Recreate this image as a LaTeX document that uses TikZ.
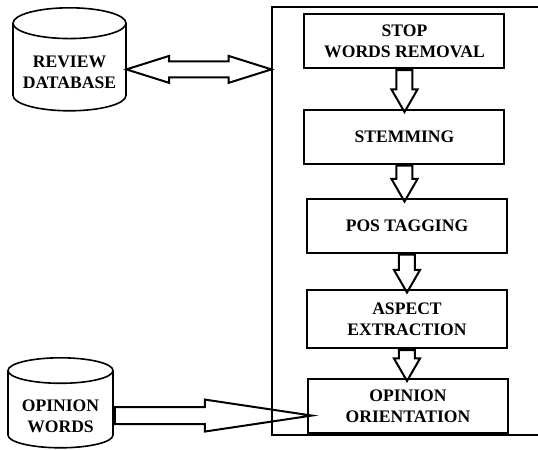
\documentclass[tikz,border=0pt]{standalone}
\usepackage{fontspec}
\setmainfont{Liberation Serif}
\usetikzlibrary{shapes.geometric,shapes.arrows,calc}

\begin{document}
\begin{tikzpicture}[
  x=0.5pt,
  y=-0.5pt,
  font=\fontsize{8.8}{10.5}\selectfont\bfseries,
  line join=miter,
  stage/.style={
    rectangle,
    draw=black,
    line width=1pt,
    minimum width=100pt,
    minimum height=27pt,
    align=center,
    inner sep=1pt
  },
  store/.style={
    cylinder,
    shape border rotate=90,
    aspect=0.33,
    draw=black,
    line width=0.8pt,
    align=center,
    inner sep=0pt,
    anchor=north
  },
  flow/.style={
    single arrow,
    draw=black,
    line width=1pt,
    inner xsep=0pt,
    inner ysep=3.5pt,
    single arrow head extend=2.5pt,
    single arrow tip angle=60,
    rotate=-90,
    anchor=tail
  }
]

\useasboundingbox (0,0) rectangle (538,450);

% ------------------------------------------------------------
% Data stores
% ------------------------------------------------------------

\node[store,minimum width=56.5pt,minimum height=51.5pt]
  (review) at (69.5,7) {\mbox{}\\REVIEW\\DATABASE};

\node[store,minimum width=52.5pt,minimum height=45pt]
  (opinion) at (60.5,357) {\mbox{}\\[2pt]OPINION\\WORDS};

% ------------------------------------------------------------
% Processing stages inside the frame
% ------------------------------------------------------------

\node[draw=black,line width=1pt,minimum width=136.5pt,minimum height=214pt]
  (pipeline) at (408.5,221) {};

\node[stage] (stopwords) at (404.5,41)  {STOP\\WORDS REMOVAL};
\node[stage] (stemming)  at (404.5,136.5) {STEMMING};
\node[stage] (postag)    at (407,225.5) {POS TAGGING};
\node[stage,minimum height=29pt] (aspect) at (407,319) {ASPECT\\EXTRACTION};
\node[stage] (orient)    at (408,406) {OPINION\\ORIENTATION};

\node[flow,minimum height=21pt]   (f1) at (stopwords.south) {};
\node[flow,minimum height=18pt]   (f2) at (stemming.south)  {};
\node[flow,minimum height=19pt]   (f3) at (postag.south)    {};
\node[flow,minimum height=15.5pt] (f4) at (aspect.south)    {};

% ------------------------------------------------------------
% Links to the stores
% ------------------------------------------------------------

\node[
  double arrow,
  draw=black,
  line width=1pt,
  minimum height=72.5pt,
  inner xsep=0pt,
  inner ysep=3.5pt,
  double arrow head extend=2.75pt,
  double arrow tip angle=35,
  yshift=-1pt
] (exchange)
  at ($(review.east)!0.5!(review.east -| pipeline.west)$) {};

\node[
  single arrow,
  draw=black,
  line width=1pt,
  minimum height=98.5pt,
  inner xsep=0pt,
  inner ysep=3.75pt,
  single arrow head extend=3.75pt,
  single arrow tip angle=17,
  anchor=tail,
  yshift=-3pt
] (lookup)
  at (opinion.east) {};
\end{tikzpicture}
\end{document}
